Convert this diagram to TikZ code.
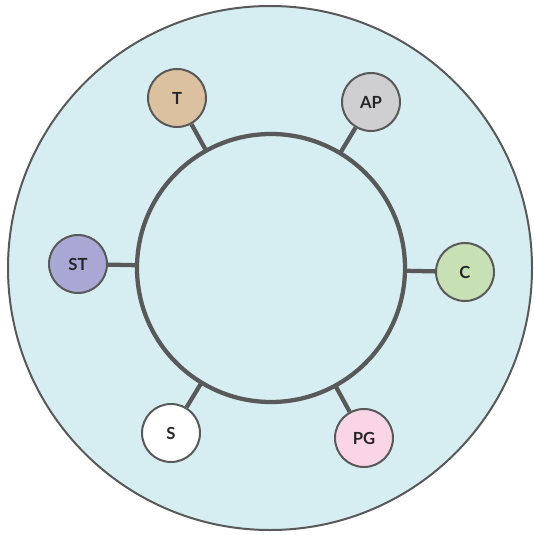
\documentclass[tikz,border=0pt]{standalone}
\usepackage{fontspec}
\setmainfont{Lato}
\usetikzlibrary{calc}
\definecolor{bgblue}{HTML}{D6EEF2}
\definecolor{edgegray}{HTML}{595959}
\definecolor{tcol}{HTML}{DCC1A1}
\definecolor{apcol}{HTML}{CFCFD1}
\definecolor{stcol}{HTML}{A9A8D5}
\definecolor{ccol}{HTML}{C7E1B5}
\definecolor{pgcol}{HTML}{FAD5E6}
\tikzset{
  leaf/.style={circle, draw=edgegray, line width=1.5pt, minimum size=43.5pt, inner sep=0pt,
    font=\fontsize{12.5}{14}\selectfont\bfseries, text=black!85},
  spoke/.style={draw=edgegray, line width=3.2pt},
}
\begin{document}
\begin{tikzpicture}[x=0.75pt,y=-0.75pt]
\useasboundingbox (0,0) rectangle (533,535);
\node[circle, draw=edgegray, line width=1.5pt, fill=bgblue, minimum size=393pt, inner sep=0pt] (outer) at (270,268) {};
\coordinate (O) at (271,268);
\node[leaf, fill=tcol] (T) at (177,98) {T};
\node[leaf, fill=apcol] (AP) at (371,102) {AP};
\node[leaf, fill=stcol] (ST) at (78,264) {ST};
\node[leaf, fill=ccol] (C) at (465,272) {C};
\node[leaf, fill=white] (S) at (171,433) {S};
\node[leaf, fill=pgcol] (PG) at (364,438) {PG};
\foreach \n in {T,AP,ST,C,S,PG}{
  \draw[spoke] ($(O)!100.5pt!(\n)$) -- (\n);
}
\draw[edgegray, line width=3.2pt] (O) circle (100.5pt);
\end{tikzpicture}
\end{document}
